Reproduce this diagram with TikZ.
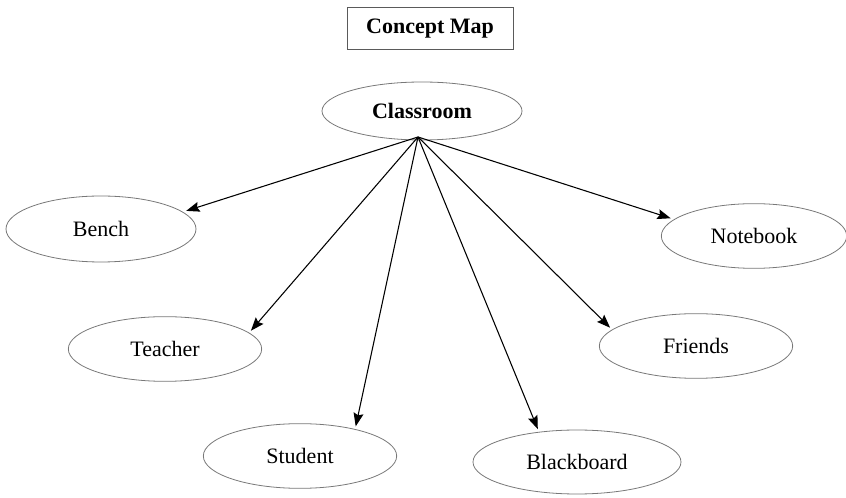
\documentclass[tikz,border=0pt]{standalone}
\usepackage{fontspec}
\setmainfont{Liberation Serif}
\usetikzlibrary{arrows.meta, positioning, shapes.geometric}

\tikzset{
  concept/.style={ellipse, draw={rgb,255:red,120;green,120;blue,120}, line width=0.6pt,
    minimum width=145pt, minimum height=48.5pt, inner sep=0pt, outer sep=2.5pt,
    font=\fontsize{16.5}{20}\selectfont},
  link/.style={line width=0.8pt, -{Stealth[length=10pt,width=7.5pt,inset=1.5pt]}}
}

\begin{document}
\begin{tikzpicture}[x=0.75pt,y=0.75pt,yscale=-1,xscale=1]
\useasboundingbox (0,0) rectangle (846,498);

% Title
\node (title) at (430,28.5) [draw={rgb,255:red,90;green,90;blue,90}, line width=0.6pt, minimum width=124.5pt, minimum height=32pt, font=\bfseries\fontsize{16.5}{20}\selectfont] {Concept Map};

% Centre
\node (classroom) at (422,111) [concept, minimum width=150pt, minimum height=43.5pt, font=\bfseries\fontsize{16.5}{20}\selectfont] {Classroom};
\coordinate (hub) at (418,137);

% Concepts
\node (bench) at (101,229) [concept, minimum width=142.5pt, minimum height=49.5pt] {Bench};
\node (teacher) at (165,349) [concept] {Teacher};
\node (student) at (300,456) [concept] {Student};
\node (blackboard) at (577,462) [concept, minimum width=156pt, minimum height=48pt] {Blackboard};
\node (friends) at (696,346) [concept] {Friends};
\node (notebook) at (754,236) [concept, minimum width=139pt] {Notebook};

% Links
\draw [link] (hub) -- (bench.12);
\draw [link] (hub) -- (teacher.12);
\draw [link] (hub) -- (student.28);
\draw [link] (hub) -- (blackboard.140);
\draw [link] (hub) -- (friends.168);
\draw [link] (hub) -- (notebook.168);

\end{tikzpicture}
\end{document}
